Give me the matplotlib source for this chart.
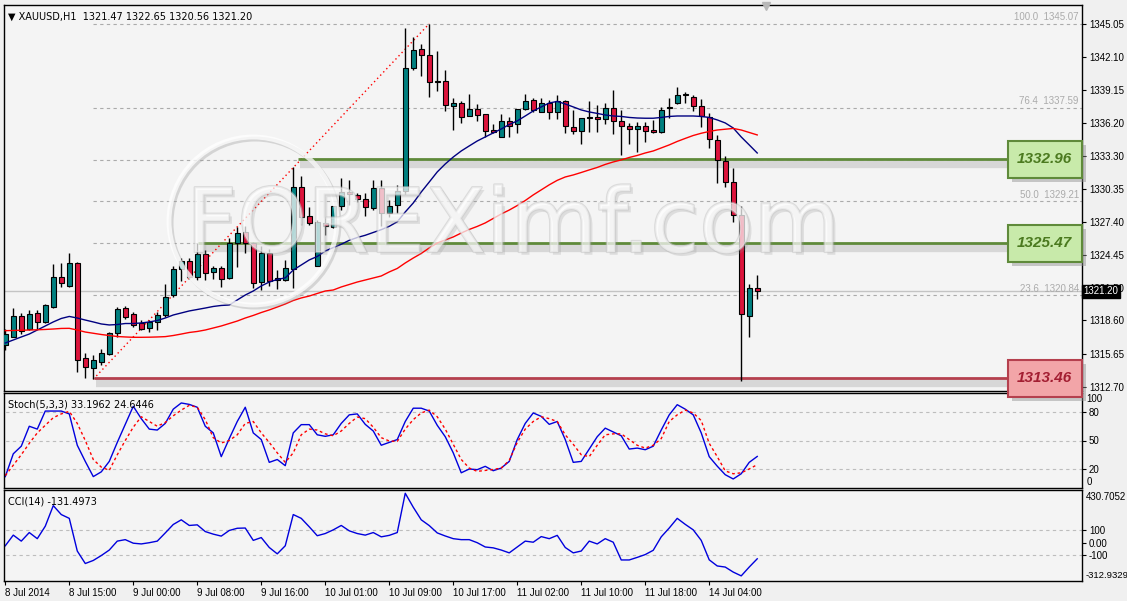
import numpy as np
import matplotlib
matplotlib.use("Agg")
import matplotlib.pyplot as plt
from matplotlib import patches, transforms
from matplotlib import patheffects as pe

plt.rcParams['font.family'] = ['Liberation Sans', 'DejaVu Sans']

# -------------------------------
# XAUUSD H1 bars
# -------------------------------
opens = [1316.40, 1317.15, 1319.00, 1317.80, 1319.25, 1318.45, 1319.83, 1322.50, 1321.70, 1323.70,
         1315.25, 1314.40, 1314.93, 1315.60, 1317.45, 1319.70, 1319.15, 1318.35, 1317.90, 1318.50,
         1319.10, 1320.87, 1323.17, 1323.94, 1322.50, 1324.53, 1322.90, 1323.30, 1322.37, 1325.54,
         1326.50, 1325.54, 1322.00, 1324.65, 1322.25, 1322.22, 1323.17, 1330.54, 1327.92, 1323.46,
         1327.32, 1326.97, 1328.81, 1330.09, 1329.80, 1329.41, 1328.61, 1330.39, 1328.22, 1328.90,
         1330.18, 1341.10, 1342.80, 1342.28, 1339.95, 1339.95, 1337.76, 1337.98, 1336.84, 1337.44,
         1337.02, 1335.59, 1335.00, 1336.40, 1336.10, 1337.44, 1338.27, 1337.23, 1337.98, 1337.23,
         1338.18, 1335.83, 1335.53, 1336.64, 1336.73, 1336.55, 1337.53, 1336.42, 1335.98, 1335.66,
         1335.98, 1335.59, 1335.44, 1337.53, 1338.03, 1338.72, 1338.57, 1337.74, 1336.78, 1334.70,
         1332.83, 1330.98, 1328.00, 1319.03, 1321.47]
highs = [1317.80, 1319.75, 1319.30, 1319.50, 1319.50, 1320.10, 1323.60, 1323.70, 1324.60, 1323.80,
         1315.68, 1315.50, 1316.10, 1317.60, 1319.78, 1319.90, 1319.40, 1318.60, 1318.65, 1319.40,
         1321.86, 1323.45, 1324.15, 1324.15, 1325.50, 1324.90, 1323.50, 1323.50, 1326.00, 1326.97,
         1327.03, 1325.63, 1325.20, 1325.00, 1323.10, 1324.00, 1332.32, 1331.49, 1328.75, 1327.56,
         1327.83, 1328.81, 1331.29, 1331.13, 1329.95, 1329.95, 1331.13, 1331.13, 1329.35, 1330.69,
         1344.67, 1343.86, 1343.27, 1345.07, 1342.60, 1340.90, 1338.42, 1338.21, 1338.81, 1337.91,
         1337.02, 1336.13, 1337.02, 1336.78, 1337.44, 1338.81, 1338.42, 1338.42, 1338.30, 1338.72,
         1338.27, 1337.38, 1336.64, 1338.21, 1337.82, 1337.98, 1339.16, 1337.38, 1336.19, 1336.28,
         1336.28, 1336.49, 1337.67, 1338.42, 1339.46, 1339.02, 1338.72, 1338.33, 1337.09, 1335.15,
         1333.27, 1332.18, 1328.81, 1321.85, 1322.65]
lows = [1316.00, 1317.10, 1317.40, 1317.75, 1317.80, 1318.35, 1319.70, 1321.60, 1321.60, 1314.04,
        1313.45, 1313.36, 1314.60, 1315.50, 1317.15, 1318.70, 1318.05, 1317.75, 1317.60, 1317.75,
        1318.90, 1320.72, 1322.10, 1322.27, 1322.20, 1322.20, 1322.30, 1321.57, 1322.30, 1323.40,
        1324.60, 1321.47, 1321.32, 1321.68, 1321.40, 1322.10, 1321.47, 1327.12, 1327.12, 1323.46,
        1326.22, 1326.82, 1328.46, 1328.90, 1329.20, 1327.92, 1328.46, 1326.99, 1327.86, 1328.16,
        1329.90, 1340.95, 1340.40, 1338.56, 1339.10, 1337.30, 1335.59, 1336.25, 1336.84, 1336.43,
        1334.94, 1335.30, 1334.94, 1334.99, 1335.30, 1337.40, 1337.23, 1337.20, 1336.55, 1336.55,
        1335.35, 1335.24, 1334.35, 1335.44, 1335.44, 1336.10, 1335.24, 1333.36, 1334.35, 1333.66,
        1334.55, 1335.30, 1335.30, 1336.64, 1337.91, 1338.00, 1337.30, 1335.89, 1333.96, 1330.89,
        1330.50, 1327.41, 1313.20, 1317.16, 1320.56]
closes = [1317.37, 1319.00, 1317.70, 1319.15, 1318.50, 1320.00, 1322.50, 1321.90, 1323.70, 1315.07,
          1314.48, 1315.10, 1315.67, 1317.45, 1319.60, 1318.94, 1318.20, 1317.80, 1318.50, 1319.10,
          1320.72, 1323.17, 1323.94, 1322.50, 1324.53, 1322.80, 1323.30, 1322.30, 1325.54, 1326.43,
          1325.54, 1321.92, 1324.65, 1322.15, 1322.35, 1323.26, 1330.54, 1327.81, 1327.32, 1327.41,
          1327.03, 1328.81, 1330.09, 1329.88, 1329.41, 1328.75, 1330.39, 1328.16, 1328.81, 1330.18,
          1341.10, 1342.73, 1342.30, 1339.90, 1339.90, 1337.82, 1337.98, 1336.78, 1337.44, 1336.91,
          1335.53, 1335.39, 1336.40, 1335.98, 1337.44, 1338.18, 1337.38, 1337.98, 1337.23, 1338.18,
          1335.95, 1335.53, 1336.64, 1336.64, 1336.55, 1337.53, 1336.42, 1335.95, 1335.66, 1335.98,
          1335.53, 1335.39, 1337.38, 1337.55, 1338.72, 1338.70, 1337.74, 1336.84, 1334.76, 1332.92,
          1330.98, 1328.00, 1319.15, 1321.47, 1321.20]

# moving averages (blue = fast, red = slow)
ma_fast = [1316.59, 1316.86, 1317.13, 1317.39, 1317.75, 1318.11, 1318.47, 1318.78, 1318.96, 1318.82,
           1318.64, 1318.47, 1318.29, 1318.20, 1318.24, 1318.33, 1318.33, 1318.38, 1318.47, 1318.60,
           1318.82, 1319.09, 1319.27, 1319.45, 1319.58, 1319.71, 1319.85, 1319.94, 1319.98, 1320.43,
           1320.87, 1321.23, 1321.68, 1322.03, 1322.26, 1322.40, 1323.10, 1323.55, 1324.00, 1324.31,
           1324.80, 1325.10, 1325.40, 1325.75, 1326.00, 1326.20, 1326.45, 1326.70, 1327.00, 1327.40,
           1328.28, 1329.08, 1330.06, 1330.95, 1331.85, 1332.56, 1333.18, 1333.72, 1334.17, 1334.61,
           1334.97, 1335.33, 1335.68, 1336.08, 1336.40, 1336.84, 1337.29, 1337.65, 1338.00, 1338.14,
           1337.91, 1337.65, 1337.38, 1337.20, 1337.07, 1336.93, 1336.84, 1336.80, 1336.71, 1336.66,
           1336.64, 1336.64, 1336.71, 1336.80, 1336.84, 1336.84, 1336.84, 1336.80, 1336.71, 1336.49,
           1336.22, 1335.77, 1334.97, 1334.26, 1333.54]
ma_slow = [1317.69, 1317.71, 1317.73, 1317.75, 1317.77, 1317.80, 1317.84, 1317.89, 1317.90, 1317.75,
           1317.57, 1317.46, 1317.35, 1317.26, 1317.17, 1317.13, 1317.10, 1317.10, 1317.11, 1317.13,
           1317.16, 1317.26, 1317.39, 1317.53, 1317.62, 1317.75, 1317.93, 1318.11, 1318.33, 1318.55,
           1318.82, 1319.05, 1319.31, 1319.54, 1319.80, 1320.07, 1320.38, 1320.61, 1320.78, 1321.01,
           1321.23, 1321.32, 1321.59, 1321.81, 1322.03, 1322.21, 1322.39, 1322.57, 1322.93, 1323.24,
           1323.73, 1324.17, 1324.58, 1325.07, 1325.51, 1325.78, 1326.05, 1326.40, 1326.72, 1326.99,
           1327.30, 1327.70, 1328.10, 1328.45, 1328.85, 1329.30, 1329.80, 1330.25, 1330.70, 1331.10,
           1331.40, 1331.58, 1331.80, 1332.03, 1332.25, 1332.52, 1332.74, 1332.92, 1333.14, 1333.32,
           1333.54, 1333.72, 1333.99, 1334.26, 1334.57, 1334.84, 1335.10, 1335.30, 1335.46, 1335.59,
           1335.66, 1335.73, 1335.59, 1335.37, 1335.15]

# Stochastic(5,3,3): main + signal
stoch_main = [12, 36, 44, 65, 62, 81, 81, 81, 78, 45,
              28, 12, 17, 28, 48, 67, 86, 73, 62, 61,
              68, 83, 89.5, 88, 85, 65, 58, 33, 52, 70,
              85, 58, 51, 27, 30, 23.5, 58, 66.7, 66.7, 56,
              54.4, 56, 68, 77, 78, 67, 60, 45, 48, 51,
              70, 84, 84, 81, 66, 54, 37, 16, 20, 19.3,
              22.8, 18.2, 21, 28, 51, 68, 79, 75.4, 67, 70,
              51, 27, 28, 41, 54, 63, 59, 55, 41, 42,
              40.3, 44, 61, 77, 87.7, 83, 77, 58, 33, 23,
              14, 9.5, 15, 27, 33.2]
stoch_signal = [13, 24, 35, 47, 58, 66, 74, 78, 80.7, 68,
                50, 30, 22, 18.6, 35, 50, 64, 75, 70, 65,
                69, 76, 82, 87, 85, 72, 53, 47.4, 50, 56,
                68, 70, 58, 48, 37, 27, 37, 56, 62, 61,
                57, 55, 60, 68, 74.7, 73, 64, 53, 49.5, 49,
                62, 72, 79, 82, 75, 62, 46, 30, 21, 17.5,
                18.5, 19.5, 21, 29, 48, 62, 70, 75, 73, 70,
                56, 46, 35, 33, 45, 56, 57, 57, 51, 45,
                42, 45, 52, 70, 77, 82, 79, 71, 47, 33,
                18, 15, 16, 20, 24.6]

# CCI(14)
cci = [-25, 62, 13, 83, 33, 135, 303, 230, 199, -68,
       -170, -145, -105, -60, 13, 25, -4, -10, 0, 13,
       80, 149, 187, 141, 146, 91, 70, 54, 100, 118,
       120, 19, 42, -39, -91, -25, 230, 199, 130, 57,
       75, 105, 141, 97, 75, 62, 83, 48, 60, 83,
       404, 290, 187, 140, 80, 55, 33, 25, 25, 0,
       -35, -42, -60, -83, -35, 13, 4, 50, 33, 60,
       -39, -83, -68, 13, -10, 33, 4, -141, -141, -120,
       -97, -62, 48, 120, 199, 150, 105, 19, -140, -190,
       -199, -240, -271, -199, -131.5]

time_tick_bars = [0, 8, 16, 24, 32, 40, 48, 56, 64, 72, 80, 88]
time_labels = ['8 Jul 2014', '8 Jul 15:00', '9 Jul 00:00', '9 Jul 08:00', '9 Jul 16:00',
               '10 Jul 01:00', '10 Jul 09:00', '10 Jul 17:00', '11 Jul 02:00',
               '11 Jul 10:00', '11 Jul 18:00', '14 Jul 04:00']
price_ticks = [1345.05, 1342.10, 1339.15, 1336.20, 1333.30, 1330.35, 1327.40,
               1324.45, 1321.50, 1318.60, 1315.65, 1312.70]

# Fibonacci retracement (low bar 11 -> high bar 53)
fib_low_bar, fib_high_bar = 11, 53
fib_low, fib_high = 1313.36, 1345.07
fib_levels = [100.0, 76.4, 61.8, 50.0, 38.2, 23.6]
fib_shown = [100.0, 76.4, 50.0, 23.6]

# support / resistance levels with boxes
sr_levels = [1332.96, 1325.47, 1313.46]
sr_start = [36.6, 24.1, 11.1]
sr_line = ['#5f8a3a', '#5f8a3a', '#b5404e']
sr_fill = ['#c8eaaa', '#c8eaaa', '#f2a5a8']
sr_text = ['#4b7a1f', '#4b7a1f', '#a31e32']

last_price = 1321.20

# -------------------------------
# Figure / panels
# -------------------------------
W, H = 1127, 601
fig = plt.figure(figsize=(W / 100, H / 100), dpi=100, facecolor='#f0f0f0')


def px_rect(x0, y0, x1, y1):
    return [x0 / W, 1 - y1 / H, (x1 - x0) / W, (y1 - y0) / H]


ax = fig.add_axes(px_rect(4, 5, 1082, 391))
ax_st = fig.add_axes(px_rect(4, 393, 1082, 488), sharex=ax)
ax_cci = fig.add_axes(px_rect(4, 490, 1082, 581), sharex=ax)
ax.set_zorder(3)

bg = '#f4f4f4'
for a in (ax, ax_st, ax_cci):
    a.set_facecolor(bg)
    for s in a.spines.values():
        s.set_color('black')
        s.set_linewidth(1.0)
    a.yaxis.tick_right()
    a.tick_params(axis='y', labelsize=7, length=3, pad=2, colors='black')

x = np.arange(len(opens))
o, h, l, c = map(np.array, (opens, highs, lows, closes))
ax.set_xlim(-0.16, 134.6)
ax.set_ylim(1312.31, 1346.74)
xmax = 134.6

# grey current price line + fib dashed lines
ax.axhline(last_price, color='#c4c4c4', lw=1, zorder=1)
fib_prices = [fib_low + (fib_high - fib_low) * lv / 100 for lv in fib_levels]
ax.hlines(fib_prices, fib_low_bar, xmax, colors='#ababab', linestyles=(0, (3, 3)), lw=0.8, zorder=1)
for lv, p in zip(fib_levels, fib_prices):
    if lv in fib_shown:
        ax.text(134.2, p + 0.12, f'{lv:.1f}  {p:.2f}', ha='right', va='bottom',
                color='#ababab', fontsize=7, zorder=2)
ax.plot([fib_low_bar, fib_high_bar], [fib_low, fib_high], color='red',
        ls=(0, (1, 2.2)), lw=1, zorder=2)

# S/R lines with soft shadow
box_left, box_right, box_half = 125.3, 134.55, 1.65
for lvl, x0, lc in zip(sr_levels, sr_start, sr_line):
    ax.hlines(lvl - 0.42, x0 + 0.3, box_left, colors='#d0d0d0', lw=6, alpha=0.8, zorder=1.5)
    ax.hlines(lvl, x0, box_left, colors=lc, lw=2, zorder=2)

# candles
up = c >= o
body_col = np.where(up, '#008080', '#dc143c')
ax.vlines(x, l, h, color='black', lw=1, zorder=3)
body_bot = np.minimum(o, c)
body_h = np.maximum(np.abs(c - o), 0.07)
ax.bar(x, body_h, bottom=body_bot, width=0.6, color=body_col,
       edgecolor='black', linewidth=0.8, zorder=4)

# moving averages
ax.plot(x, ma_fast, color='#000080', lw=1, zorder=5)
ax.plot(x, ma_slow, color='red', lw=1, zorder=5)

# watermark (faint, embossed look)
ring = patches.Ellipse((253 / W, 1 - 221 / H), 168 / W, 168 / H, transform=fig.transFigure,
                       fill=False, ec=(1, 1, 1, 0.75), lw=3.5, zorder=10)
ring.set_path_effects([pe.SimpleLineShadow(offset=(1.5, -1.5), shadow_color='#9a9a9a', alpha=0.35),
                       pe.Normal()])
fig.add_artist(ring)
wm = fig.text(186 / W, 1 - 252 / H, 'FOREXimf.com', fontsize=64, family='DejaVu Sans',
              color=(1, 1, 1, 0.45), va='baseline', ha='left', zorder=11)
wm.set_path_effects([pe.SimplePatchShadow(offset=(2, -2), shadow_rgbFace='#8f8f8f', alpha=0.22),
                     pe.withStroke(linewidth=1.6, foreground=(0.78, 0.78, 0.78, 0.55))])

# level boxes
for lvl, lc, fc, tc in zip(sr_levels, sr_line, sr_fill, sr_text):
    shadow = patches.Rectangle((box_left + 0.5, lvl - box_half - 0.35), box_right - box_left,
                               2 * box_half, fc='#8c8c8c', ec='none', alpha=0.45,
                               clip_on=False, zorder=11)
    box = patches.Rectangle((box_left, lvl - box_half), box_right - box_left, 2 * box_half,
                            fc=fc, ec=lc, lw=1.5, clip_on=False, zorder=12)
    ax.add_patch(shadow)
    ax.add_patch(box)
    ax.text((box_left + box_right) / 2, lvl, f'{lvl:.2f}', ha='center', va='center',
            fontsize=11, fontweight='bold', fontstyle='italic', color=tc,
            family='Liberation Sans', zorder=13, clip_on=False)

# price axis
ax.set_yticks(price_ticks)
ax.set_yticklabels([f'{p:.2f}' for p in price_ticks])
ax.tick_params(axis='x', bottom=False, labelbottom=False)
blend = transforms.blended_transform_factory(ax.transAxes, ax.transData)
ax.text(1.0015, last_price, f'{last_price:.2f}', transform=blend, ha='left', va='center',
        color='white', fontsize=7, zorder=14, clip_on=False,
        bbox=dict(facecolor='black', edgecolor='black', pad=1.2))
ax.plot([0.707], [0.997], marker='v', ms=6, color='#b8b8b8', transform=ax.transAxes,
        clip_on=False, zorder=14)
ax.text(0.004, 0.982, '\u25bc XAUUSD,H1  1321.47 1322.65 1320.56 1321.20', transform=ax.transAxes,
        ha='left', va='top', fontsize=7, family=['DejaVu Sans'], zorder=14)

# Stochastic panel
ax_st.set_ylim(0, 100)
ax_st.hlines([80, 50, 20], -1, xmax, colors='#bdbdbd', linestyles=(0, (3, 3)), lw=0.8)
ax_st.plot(x, stoch_main, color='#0000dd', lw=1)
ax_st.plot(x, stoch_signal, color='red', lw=1, ls=(0, (2, 2)))
ax_st.set_yticks([80, 50, 20])
ax_st.tick_params(axis='x', bottom=False, labelbottom=False)
bst = transforms.blended_transform_factory(ax_st.transAxes, ax_st.transData)
ax_st.text(1.004, 93.5, '100', transform=bst, fontsize=7, va='center', ha='left')
ax_st.text(1.004, 6, '0', transform=bst, fontsize=7, va='center', ha='left')
ax_st.text(0.004, 0.93, 'Stoch(5,3,3) 33.1962 24.6446', transform=ax_st.transAxes,
           ha='left', va='top', fontsize=7, family=['DejaVu Sans'])

# CCI panel
ax_cci.set_ylim(-312.9329, 430.7052)
ax_cci.hlines([100, -100], -1, xmax, colors='#bdbdbd', linestyles=(0, (3, 3)), lw=0.8)
ax_cci.plot(x, cci, color='#0000dd', lw=1)
ax_cci.set_yticks([100, 0, -100])
ax_cci.set_yticklabels(['100', '0.00', '-100'])
bcc = transforms.blended_transform_factory(ax_cci.transAxes, ax_cci.transData)
ax_cci.text(1.004, 375, '430.7052', transform=bcc, fontsize=7, va='center', ha='left')
ax_cci.text(1.003, -265, '-312.9329', transform=bcc, fontsize=6.8, va='center', ha='left')
ax_cci.text(0.004, 0.93, 'CCI(14) -131.4973', transform=ax_cci.transAxes,
            ha='left', va='top', fontsize=7, family=['DejaVu Sans'])

ax_cci.set_xticks(time_tick_bars)
ax_cci.set_xticklabels(time_labels, ha='left')
ax_cci.tick_params(axis='x', labelsize=7, length=3, pad=2)
ax_cci.set_xlim(-0.16, xmax)

fig.savefig('out.png', dpi=100, facecolor=fig.get_facecolor())
